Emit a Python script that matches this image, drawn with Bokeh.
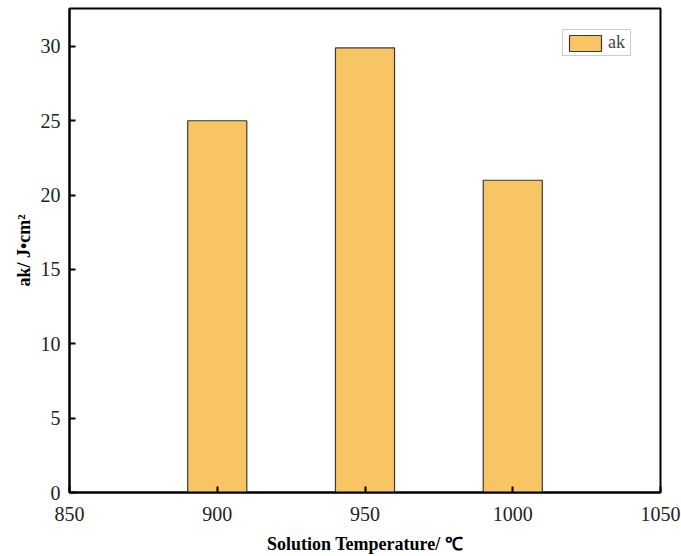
from bokeh.plotting import figure
from bokeh.models import Range1d, Legend, LegendItem
from bokeh.embed import file_html
from bokeh.resources import INLINE

# Impact toughness at each solution temperature
temperatures = [900, 950, 1000]
ak_values = [25.0, 29.9, 21.0]
bar_width = 20

x_ticks = [850, 900, 950, 1000, 1050]
y_ticks = [0, 5, 10, 15, 20, 25, 30]

SERIF = "Liberation Serif"

p = figure(width=681, height=556, output_backend="svg", toolbar_location=None,
           x_range=Range1d(850, 1050), y_range=Range1d(0, 32.55),
           min_border_left=69, min_border_right=21, min_border_top=8,
           min_border_bottom=63)

bars = p.vbar(x=temperatures, top=ak_values, width=bar_width, bottom=0,
              fill_color="#F8C565", line_color="#3a3a3a", line_width=1.2)

p.grid.visible = False
p.background_fill_color = "white"
p.border_fill_color = "white"
p.outline_line_color = "black"
p.outline_line_width = 2

for axes in (p.xaxis, p.yaxis):
    axes.axis_line_width = 2
    axes.axis_line_color = "black"
    axes.major_tick_in = 6
    axes.major_tick_out = 0
    axes.major_tick_line_width = 2
    axes.minor_tick_line_color = None
    axes.major_label_text_font = SERIF
    axes.major_label_text_font_size = "20px"
    axes.major_label_text_color = "#222222"
    axes.axis_label_text_font = SERIF
    axes.axis_label_text_font_style = "bold"
    axes.axis_label_text_font_size = "18px"
    axes.axis_label_text_color = "black"

p.xaxis.ticker = x_ticks
p.yaxis.ticker = y_ticks
p.xaxis.axis_label = "Solution Temperature/ ℃"
p.yaxis.axis_label = "ak/ J•cm²"
p.xaxis.major_label_standoff = 14
p.xaxis.axis_label_standoff = 10
p.yaxis.major_label_standoff = 9
p.yaxis.axis_label_standoff = 4

legend = Legend(items=[LegendItem(label="ak", renderers=[bars])],
                location=(493, 436), orientation="vertical",
                label_text_font=SERIF, label_text_font_size="18px",
                label_standoff=3, glyph_width=40, glyph_height=20,
                padding=2, spacing=0, margin=0,
                border_line_color="#999999", border_line_width=1,
                background_fill_alpha=1)
p.add_layout(legend)

open("out.html", "w").write(file_html(p, INLINE))
